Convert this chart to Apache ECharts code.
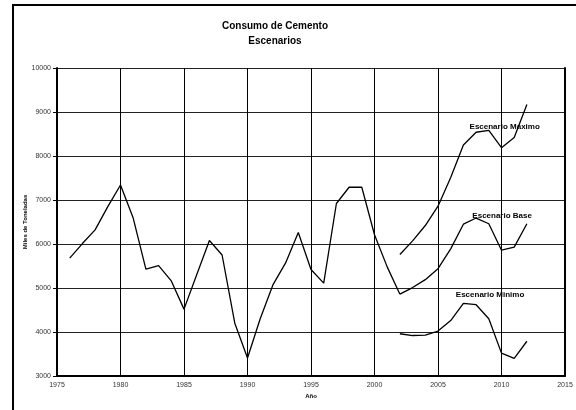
<!DOCTYPE html>
<html>
<head>
<meta charset="utf-8">
<script src="https://cdn.jsdelivr.net/npm/echarts@6/dist/echarts.min.js"></script>
<style>
html,body{margin:0;padding:0;background:#fff;}
#c{width:576px;height:410px;}
</style>
</head>
<body>
<div id="c"></div>
<script>
// ---- data ----
var histYears = [1976,1977,1978,1979,1980,1981,1982,1983,1984,1985,1986,1987,1988,1989,1990,1991,1992,1993,1994,1995,1996,1997,1998,1999,2000,2001,2002];
var histValues = [5680,6010,6320,6850,7340,6590,5430,5510,5160,4520,5300,6080,5750,4200,3410,4300,5070,5570,6260,5420,5110,6920,7290,7290,6210,5480,4860];
var scenYears = [2002,2003,2004,2005,2006,2007,2008,2009,2010,2011,2012];
var maxValues = [5760,6070,6420,6860,7510,8250,8540,8580,8190,8420,9170];
var baseValues = [4860,5010,5190,5440,5890,6450,6590,6460,5860,5930,6460];
var minValues = [3960,3920,3930,4020,4260,4650,4620,4300,3520,3400,3790];
var scenNames = ['Escenario Maximo','Escenario Base','Escenario Minimo'];
var xTicks = {min:1975, max:2015, interval:5};
var yTicks = {min:3000, max:10000, interval:1000};

// label anchors (data coordinates)
var labelAnchors = [[2010.25, 8660],[2010.05, 6640],[2009.1, 4840]];

function pairs(xs, ys){ return xs.map(function(x,i){ return [x, ys[i]]; }); }

var font = '"Liberation Sans", Arial, sans-serif';
var lineStyle = {color:'#000', width:1.3};
function plain(v){ return String(v); }

function scenSeries(name, vals, anchor){
  return {
    type:'line', name:name, data:pairs(scenYears, vals), symbol:'none',
    lineStyle:lineStyle, z:3,
    markPoint:{
      symbol:'circle', symbolSize:1, itemStyle:{color:'rgba(0,0,0,0)'},
      label:{show:true, position:'inside', formatter:name, color:'#000',
             fontFamily:font, fontWeight:'bold', fontSize:8},
      data:[{coord:anchor}], z:5
    }
  };
}

var chart = echarts.init(document.getElementById('c'), null, {renderer:'canvas'});
chart.setOption({
  animation:false,
  backgroundColor:'#fff',
  title:{
    text:'Consumo de Cemento\nEscenarios',
    left:270, top:14, textAlign:'center',
    textStyle:{fontFamily:font, fontWeight:'bold', fontSize:10, color:'#000', lineHeight:15}
  },
  graphic:[{
    type:'rect', shape:{x:13, y:5, width:600, height:500},
    style:{fill:'none', stroke:'#000', lineWidth:2}, silent:true
  }],
  grid:{left:57, right:11, top:68, bottom:34},
  xAxis:{
    type:'value', min:xTicks.min, max:xTicks.max, interval:xTicks.interval,
    name:'Año', nameLocation:'middle', nameGap:17, nameMoveOverlap:false,
    nameTextStyle:{fontFamily:font, fontWeight:'bold', fontSize:6, color:'#000'},
    axisLine:{lineStyle:{color:'#000', width:2}},
    axisTick:{show:false},
    axisLabel:{fontFamily:font, fontSize:7, color:'#333', margin:6, formatter:plain},
    splitLine:{show:true, lineStyle:{color:'#000', width:1}}
  },
  yAxis:[{
    type:'value', min:yTicks.min, max:yTicks.max, interval:yTicks.interval,
    name:'Miles de Toneladas', nameLocation:'middle', nameGap:29, nameMoveOverlap:false,
    nameTextStyle:{fontFamily:font, fontWeight:'bold', fontSize:6, color:'#000'},
    axisLine:{show:true, lineStyle:{color:'#000', width:2}},
    axisTick:{show:true, length:4, lineStyle:{color:'#000'}},
    axisLabel:{fontFamily:font, fontSize:7, color:'#333', margin:6, formatter:plain},
    splitLine:{show:true, lineStyle:{color:'#222', width:1}}
  },{
    type:'value', position:'right', min:yTicks.min, max:yTicks.max,
    axisLine:{show:true, lineStyle:{color:'#000', width:2}},
    axisTick:{show:false}, axisLabel:{show:false}, splitLine:{show:false}
  }],
  series:[
    {type:'line', name:'Histórico', data:pairs(histYears, histValues), symbol:'none', lineStyle:lineStyle, z:3},
    scenSeries(scenNames[0], maxValues, labelAnchors[0]),
    scenSeries(scenNames[1], baseValues, labelAnchors[1]),
    scenSeries(scenNames[2], minValues, labelAnchors[2])
  ]
});
</script>
</body>
</html>
